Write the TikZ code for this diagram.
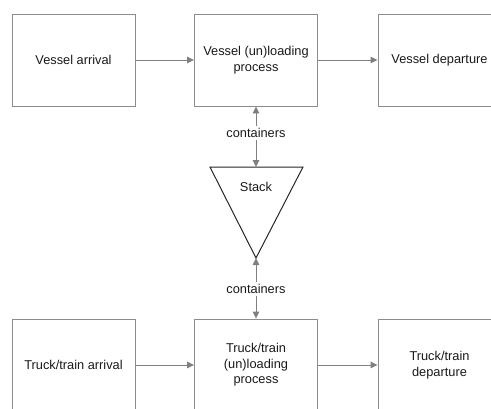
\documentclass[tikz,border=0pt]{standalone}
\usepackage{fontspec}
\setmainfont{Liberation Sans}
\usetikzlibrary{arrows.meta}
\begin{document}
\begin{tikzpicture}[x=1pt,y=-1pt,
  font=\fontsize{12.8}{15.5}\selectfont,
  procbox/.style={draw=black!45,line width=0.9pt,minimum width=123pt,minimum height=92pt,inner sep=0pt,align=center,text=black!90},
  flow/.style={draw=black!50,line width=0.9pt,-{Triangle[length=7pt,width=6.5pt]},fill=black!50},
  lbl/.style={inner sep=2pt,text=black!90}]
\useasboundingbox (0,0) rectangle (491,408);
\clip (0,0) rectangle (491,408);
% top row
\node[procbox] (va) at (73.5,60) {Vessel arrival};
\node[procbox] (vu) at (256,60) {Vessel (un)loading\\process};
\node[procbox] (vd) at (439.5,60) {Vessel departure};
% bottom row
\node[procbox] (ta) at (73.5,365) {Truck/train arrival};
\node[procbox] (tu) at (256,365) {Truck/train\\(un)loading\\process};
\node[procbox] (td) at (439.5,365) {Truck/train\\departure};
% stack triangle
\coordinate (sl) at (210,167);
\coordinate (sr) at (303,167);
\coordinate (st) at (256,167);
\coordinate (sa) at (256,258);
\draw[black!85,line width=1pt,line join=miter] (sl) -- (sr) -- (sa) -- cycle;
\node[text=black!90] (stack) at (256,187) {Stack};
% labels
\node[lbl] (c1) at (256,133) {containers};
\node[lbl] (c2) at (256,289) {containers};
% connectors
\draw[flow] (va) -- (vu);
\draw[flow] (vu) -- (vd);
\draw[flow] (ta) -- (tu);
\draw[flow] (tu) -- (td);
\draw[flow] (c1) -- (vu.south);
\draw[flow] (c1) -- (st);
\draw[flow] (c2) -- (sa);
\draw[flow] (c2) -- (tu.north);
\end{tikzpicture}
\end{document}
